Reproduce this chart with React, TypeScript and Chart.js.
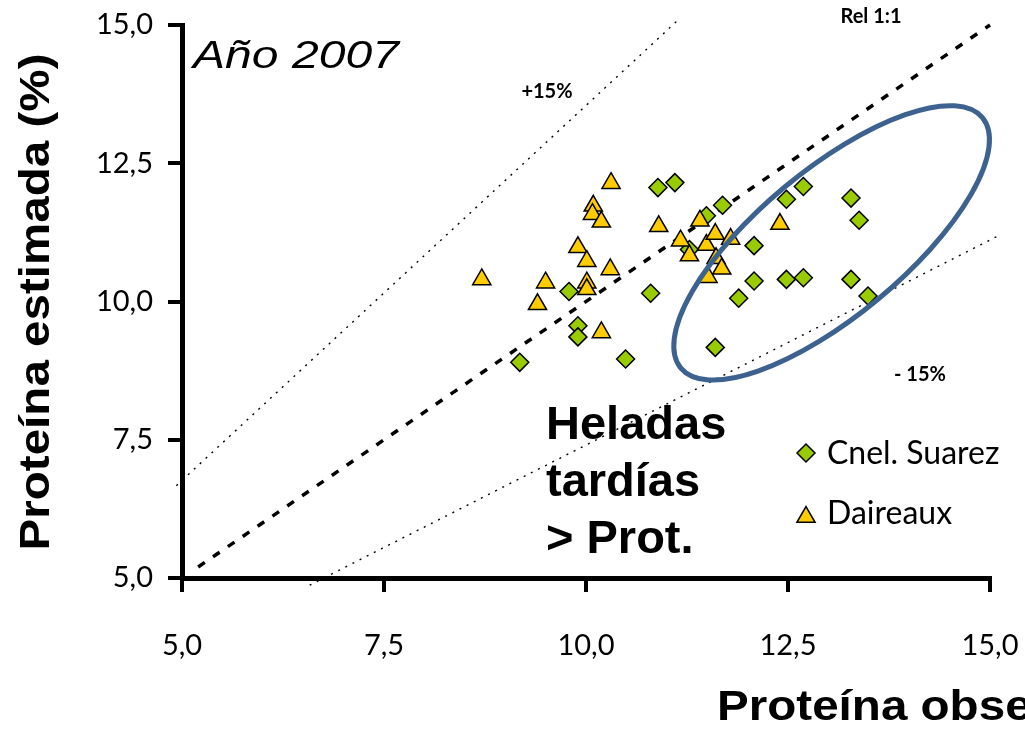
import React, { useEffect, useRef } from 'react';
import { Chart, registerables } from 'chart.js';

Chart.register(...registerables);

// Axis ticks (both axes share the same range and labels)
const tickValues = [5, 7.5, 10, 12.5, 15];
const tickLabels = ['5,0', '7,5', '10,0', '12,5', '15,0'];

// Cnel. Suarez: observed vs estimated protein (%)
const cnelSuarezObs = [9.18, 9.79, 9.9, 9.9, 10.49, 10.8, 10.89, 11.1, 11.28, 11.49, 11.69, 11.6, 11.89, 12.08, 12.08, 12.48, 12.48, 12.69, 12.69, 13.28, 13.38, 13.28, 13.49];
const cnelSuarezEst = [8.9, 10.18, 9.56, 9.36, 8.96, 10.15, 12.06, 12.15, 10.94, 11.55, 11.74, 9.17, 10.06, 11.01, 10.37, 11.85, 10.4, 12.08, 10.43, 11.87, 11.47, 10.4, 10.1];

// Daireaux: observed vs estimated protein (%)
const daireauxObs = [10.31, 10.09, 10.08, 10.19, 9.9, 10.01, 10.3, 8.71, 9.5, 10.01, 10.01, 9.4, 10.19, 10.9, 11.41, 11.17, 11.49, 11.6, 11.79, 11.28, 11.61, 11.68, 11.51, 12.4];
const daireauxEst = [12.14, 11.73, 11.58, 11.44, 10.98, 10.73, 10.58, 10.4, 10.34, 10.34, 10.22, 9.95, 9.44, 11.36, 11.46, 11.1, 11.02, 11.22, 11.13, 10.83, 10.78, 10.59, 10.44, 11.4];

// Reference lines
const relLineX = [5.2, 15];
const relLineY = [5.2, 15];
const plusLineX = [4.93, 11.14];
const plusLineY = [6.67, 15.09];
const minusLineX = [6.58, 15.12];
const minusLineY = [4.87, 11.2];

const xTitle = 'Proteína observada (%)';
const yTitle = 'Proteína estimada (%)';
const yearLabel = 'Año 2007';
const noteLines = ['Heladas', 'tardías', '> Prot.'];
const seriesNames = ['Cnel. Suarez', 'Daireaux'];

const toPoints = (xs: number[], ys: number[]) => xs.map((x, i) => ({ x, y: ys[i] }));

const ARIAL = '"Liberation Sans", Arial, sans-serif';
const CALIBRI = 'Lato, "Open Sans", sans-serif';

const GREEN = '#99CC00';
const YELLOW = '#FFCC00';
const ELLIPSE_BLUE = '#3D6290';

function drawDiamond(ctx: CanvasRenderingContext2D, x: number, y: number, r: number) {
  ctx.beginPath();
  ctx.moveTo(x, y - r);
  ctx.lineTo(x + r, y);
  ctx.lineTo(x, y + r);
  ctx.lineTo(x - r, y);
  ctx.closePath();
  ctx.fillStyle = GREEN;
  ctx.fill();
  ctx.lineWidth = 1.5;
  ctx.strokeStyle = '#000';
  ctx.stroke();
}

function drawTriangle(ctx: CanvasRenderingContext2D, x: number, y: number, r: number) {
  const h = Math.cos(Math.PI / 6) * r;
  ctx.beginPath();
  ctx.moveTo(x, y - r);
  ctx.lineTo(x + h, y + r / 2);
  ctx.lineTo(x - h, y + r / 2);
  ctx.closePath();
  ctx.fillStyle = YELLOW;
  ctx.fill();
  ctx.lineWidth = 1.5;
  ctx.strokeStyle = '#000';
  ctx.stroke();
}

const decorations = {
  id: 'decorations',
  afterDatasetsDraw(chart: any) {
    const ctx: CanvasRenderingContext2D = chart.ctx;
    const xs = chart.scales.x;
    const ys = chart.scales.y;
    // highlighted group outline
    const cx = xs.getPixelForValue(13.04);
    const cy = ys.getPixelForValue(11.06);
    ctx.save();
    ctx.beginPath();
    ctx.ellipse(cx, cy, 196, 73, -0.693, 0, Math.PI * 2);
    ctx.lineWidth = 5;
    ctx.strokeStyle = ELLIPSE_BLUE;
    ctx.stroke();
    ctx.restore();
  },
  afterDraw(chart: any) {
    const ctx: CanvasRenderingContext2D = chart.ctx;
    ctx.save();
    ctx.fillStyle = '#000';

    // axis titles (wide bold face)
    ctx.font = `bold 42px ${ARIAL}`;
    const titleScale = 497 / ctx.measureText(yTitle).width;
    ctx.save();
    ctx.translate(49, 302);
    ctx.rotate(-Math.PI / 2);
    ctx.scale(titleScale, 1);
    ctx.textAlign = 'center';
    ctx.textBaseline = 'alphabetic';
    ctx.fillText(yTitle, 0, 0);
    ctx.restore();

    ctx.save();
    ctx.translate(717, 720);
    ctx.scale(titleScale, 1);
    ctx.textAlign = 'left';
    ctx.textBaseline = 'alphabetic';
    ctx.fillText(xTitle, 0, 0);
    ctx.restore();

    // year
    ctx.font = `italic 38px ${ARIAL}`;
    const yearScale = 206 / ctx.measureText(yearLabel).width;
    ctx.save();
    ctx.translate(193, 68);
    ctx.scale(yearScale, 1);
    ctx.textAlign = 'left';
    ctx.textBaseline = 'alphabetic';
    ctx.fillText(yearLabel, 0, 0);
    ctx.restore();

    // note
    ctx.font = `bold 47px ${ARIAL}`;
    ctx.textAlign = 'left';
    ctx.textBaseline = 'alphabetic';
    noteLines.forEach((line, i) => ctx.fillText(line, 546, 439 + i * 57));

    // reference line labels
    ctx.font = `bold 20px ${CALIBRI}`;
    ctx.textAlign = 'center';
    ctx.textBaseline = 'middle';
    ctx.fillText('+15%', 547, 92);
    ctx.fillText('Rel 1:1', 871, 17);
    ctx.fillText('- 15%', 920, 375);

    // legend
    drawDiamond(ctx, 806, 453, 9);
    drawTriangle(ctx, 806, 517, 10.5);
    ctx.fillStyle = '#000';
    ctx.font = `32px ${CALIBRI}`;
    ctx.textAlign = 'left';
    ctx.textBaseline = 'middle';
    ctx.fillText(seriesNames[0], 827, 454);
    ctx.fillText(seriesNames[1], 827, 514);
    ctx.restore();
  },
};

export default function App() {
  const canvasRef = useRef<HTMLCanvasElement | null>(null);

  useEffect(() => {
    if (!canvasRef.current) return;
    const axisCommon = {
      type: 'linear' as const,
      min: 5,
      max: 15,
      border: { display: true, color: '#000', width: 5 },
      grid: {
        drawOnChartArea: false,
        drawTicks: true,
        tickLength: 14,
        lineWidth: 4,
        color: '#000',
      },
      afterBuildTicks: (scale: any) => {
        scale.ticks = tickValues.map((v) => ({ value: v }));
      },
    };
    const chart = new Chart(canvasRef.current, {
      type: 'scatter',
      data: {
        datasets: [
          {
            label: seriesNames[1],
            data: toPoints(daireauxObs, daireauxEst),
            pointStyle: 'triangle',
            pointRadius: 10.5,
            backgroundColor: YELLOW,
            borderColor: '#000',
            borderWidth: 1.5,
          },
          {
            label: seriesNames[0],
            data: toPoints(cnelSuarezObs, cnelSuarezEst),
            pointStyle: 'rectRot',
            pointRadius: 9,
            backgroundColor: GREEN,
            borderColor: '#000',
            borderWidth: 1.5,
          },
          {
            label: 'Rel 1:1',
            data: toPoints(relLineX, relLineY),
            showLine: true,
            pointRadius: 0,
            borderColor: '#000',
            borderWidth: 3.5,
            borderDash: [8, 10],
            clip: false,
          },
          {
            label: '+15%',
            data: toPoints(plusLineX, plusLineY),
            showLine: true,
            pointRadius: 0,
            borderColor: '#000',
            borderWidth: 1.4,
            borderDash: [2, 6],
            clip: false,
          },
          {
            label: '- 15%',
            data: toPoints(minusLineX, minusLineY),
            showLine: true,
            pointRadius: 0,
            borderColor: '#000',
            borderWidth: 1.4,
            borderDash: [2, 6],
            clip: false,
          },
        ],
      },
      options: {
        responsive: false,
        animation: false,
        layout: { padding: { left: 0, right: 35, top: 25, bottom: 0 } },
        plugins: {
          legend: { display: false },
          tooltip: { enabled: false },
          title: { display: false },
        },
        scales: {
          x: {
            ...axisCommon,
            position: 'bottom',
            ticks: {
              color: '#000',
              font: { family: CALIBRI, size: 29 },
              padding: 36,
              maxRotation: 0,
              callback: (_v: any, i: number) => tickLabels[i],
            },
            afterFit: (scale: any) => {
              scale.height = 156;
              scale.paddingLeft = 0;
              scale.paddingRight = 0;
            },
          },
          y: {
            ...axisCommon,
            position: 'left',
            ticks: {
              color: '#000',
              font: { family: CALIBRI, size: 29 },
              padding: 15,
              callback: (_v: any, i: number) => tickLabels[i],
            },
            afterFit: (scale: any) => {
              scale.width = 182;
              scale.paddingTop = 0;
              scale.paddingBottom = 0;
            },
          },
        },
      },
      plugins: [decorations],
    } as any);
    return () => chart.destroy();
  }, []);

  return (
    <div style={{ position: 'fixed', left: 0, top: 0, width: 1025, height: 734, background: '#fff' }}>
      <canvas ref={canvasRef} width={1025} height={734} />
    </div>
  );
}
